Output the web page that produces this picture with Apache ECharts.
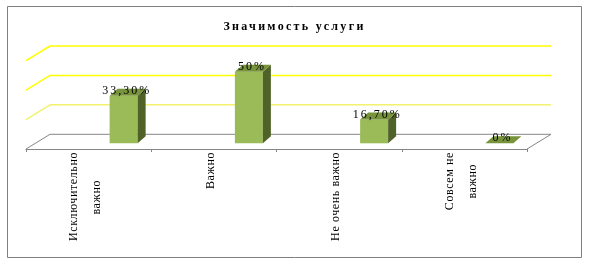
<!DOCTYPE html>
<html><head><meta charset="utf-8">
<script src="https://cdn.jsdelivr.net/npm/echarts@6/dist/echarts.min.js"></script>
<style>
html,body{margin:0;padding:0;background:#fff;}
#chart{width:589px;height:264px;}
</style></head>
<body><div id="chart"></div>
<script>
// ---- data ----
const titleText = 'Значимость услуги';
const categories = ['Исключительно\nважно', 'Важно', 'Не очень важно', 'Совсем не\nважно'];
const values = [33.3, 50, 16.7, 0];
const wallTicks = [0, 20, 40, 60];

// ---- styles ----
const SERIF = '"Liberation Serif", "Times New Roman", serif';
const wallColors = ['#868686', '#F2F26E', '#FFFF00', '#FFFF00'];
const DEPTH_X = -24, DEPTH_Y = 14.7;      // back wall -> front edge
const BAR_W = 28, BAR_DX = 8, BAR_DY = -7; // bar width & bar depth
const secondLineIndent = {0: 28, 3: 12};   // centring of wrapped label lines

// wide letter spacing as in the original rendering
(function () {
  const proto = CanvasRenderingContext2D.prototype;
  if (!('letterSpacing' in proto)) return;
  const fill = proto.fillText;
  proto.fillText = function (t, x, y, m) {
    const f = this.font || '';
    let ls = '0.6px';
    if (/bold|700/.test(f)) ls = '2.3px';
    else if (/500/.test(f)) ls = '2px';
    this.letterSpacing = ls;
    const r = m === undefined ? fill.call(this, t, x, y) : fill.call(this, t, x, y, m);
    this.letterSpacing = '0px';
    return r;
  };
})();

function fmtPct(v) {
  return Number.isInteger(v) ? v + '%' : v.toFixed(2).replace('.', ',') + '%';
}

const chart = echarts.init(document.getElementById('chart'), null, {renderer: 'canvas'});

const rich = {l: {lineHeight: 23, fontSize: 12, fontFamily: SERIF, color: '#000'}};
Object.keys(secondLineIndent).forEach(k => {
  rich['v' + k] = {lineHeight: 23, fontSize: 12, fontFamily: SERIF, color: '#000', padding: [0, secondLineIndent[k], 0, 0]};
});

chart.setOption({
  animation: false,
  backgroundColor: '#fff',
  title: {
    text: titleText, left: 'center', top: 16,
    textStyle: {fontFamily: SERIF, fontSize: 12, fontWeight: 'bold', color: '#000'}
  },
  graphic: [{
    type: 'rect', z: 100, silent: true,
    shape: {x: 7.5, y: 6.5, width: 574, height: 251},
    style: {fill: null, stroke: '#7F7F7F', lineWidth: 1}
  }],
  grid: [
    {left: 50, width: 501, top: 46, height: 88.3},          // back wall
    {left: 26, width: 501, top: 60, bottom: 264 - 149},      // front floor edge
    {left: 61, width: 501, top: 57.4, height: 85.9}          // bar plane
  ],
  xAxis: [
    {gridIndex: 0, type: 'category', data: categories, show: false},
    {gridIndex: 1, type: 'category', data: categories,
      axisLine: {show: true, lineStyle: {color: '#868686', width: 1}},
      axisTick: {show: true, length: 3, lineStyle: {color: '#868686'}},
      axisLabel: {
        interval: 0, rotate: 90, margin: 3, color: '#000',
        fontFamily: SERIF, fontSize: 12, padding: [0, 0, 7, 0],
        formatter: function (val, idx) {
          if (val.indexOf('\n') < 0) return val;
          const parts = val.split('\n');
          return '{l|' + parts[0] + '}\n{v' + idx + '|' + parts[1] + '}';
        },
        rich: rich
      }
    },
    {gridIndex: 2, type: 'category', data: categories, show: false}
  ],
  yAxis: [
    {gridIndex: 0, type: 'value', min: 0, max: 60, interval: 20, show: false, splitLine: {show: false}},
    {gridIndex: 1, type: 'value', min: 0, max: 60, show: false, splitLine: {show: false}},
    {gridIndex: 2, type: 'value', min: 0, max: 60, show: false, splitLine: {show: false}}
  ],
  series: [
    {
      type: 'custom', xAxisIndex: 0, yAxisIndex: 0, z: 1, silent: true,
      data: wallTicks.map((t, i) => [0, t, i]),
      renderItem: function (params, api) {
        const t = api.value(1), i = api.value(2);
        const y = api.coord([0, t])[1];
        const cs = params.coordSys;
        const left = cs.x, right = cs.x + cs.width;
        const col = wallColors[i];
        const lw = t === 0 ? 1 : 1.5;
        const ch = [
          {type: 'line', shape: {x1: left, y1: y, x2: right, y2: y}, style: {stroke: col, lineWidth: lw}},
          {type: 'line', shape: {x1: left, y1: y, x2: left + DEPTH_X, y2: y + DEPTH_Y}, style: {stroke: col, lineWidth: lw}}
        ];
        if (t === 0) {
          ch.push({type: 'line', shape: {x1: right, y1: y, x2: right + DEPTH_X, y2: y + DEPTH_Y}, style: {stroke: col, lineWidth: 1}});
        }
        return {type: 'group', children: ch};
      }
    },
    {
      type: 'custom', xAxisIndex: 2, yAxisIndex: 2, z: 5,
      data: values.map((v, i) => [i, v]),
      renderItem: function (params, api) {
        const i = api.value(0), v = api.value(1);
        const top = api.coord([i, v]), base = api.coord([i, 0]);
        const cx = top[0], yT = top[1], yB = base[1];
        const L = cx - BAR_W / 2, R = cx + BAR_W / 2;
        const ch = [];
        if (yB - yT > 0.5) {
          ch.push({type: 'rect', shape: {x: L, y: yT, width: BAR_W, height: yB - yT}, style: {fill: '#9BBB59'}});
          ch.push({type: 'polygon', shape: {points: [[R, yT], [R + BAR_DX, yT + BAR_DY], [R + BAR_DX, yB + BAR_DY], [R, yB]]}, style: {fill: '#4F6228'}});
        }
        ch.push({type: 'polygon', shape: {points: [[L, yT], [R, yT], [R + BAR_DX, yT + BAR_DY], [L + BAR_DX, yT + BAR_DY]]}, style: {fill: '#77933C'}});
        ch.push({type: 'text', z2: 10, style: {text: fmtPct(v), x: cx + 3, y: yT - 5, align: 'center', verticalAlign: 'middle',
          fontSize: 12, fontWeight: 500, fontFamily: SERIF, fill: '#000'}});
        return {type: 'group', children: ch};
      }
    }
  ]
});
</script>
</body></html>
